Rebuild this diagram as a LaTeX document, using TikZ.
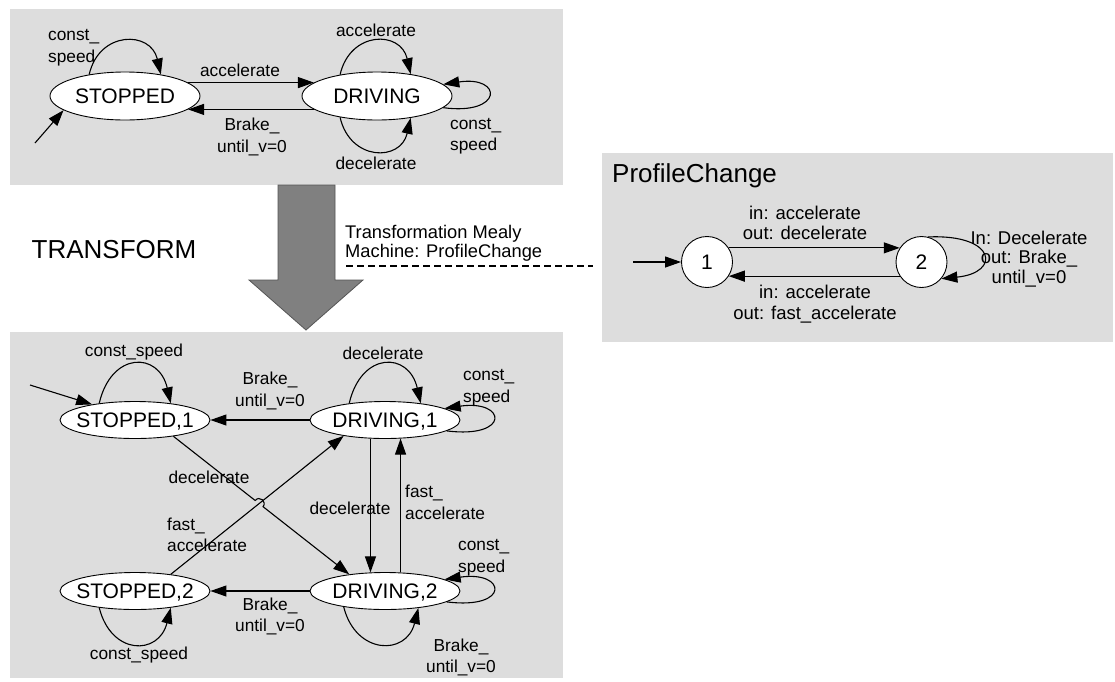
\documentclass[tikz,border=0pt]{standalone}
\usepackage{fontspec}
\setmainfont{Liberation Sans}
\usetikzlibrary{arrows.meta,shapes.geometric,calc}
\definecolor{panelgray}{RGB}{221,221,221}
\definecolor{blockfill}{RGB}{128,128,128}
\definecolor{blockedge}{RGB}{85,85,85}
\newcommand\statefont{\fontsize{21}{25}\selectfont}
\newcommand\lblfont{\fontsize{17.3}{21.5}\selectfont}
\newcommand\pclblfont{\fontsize{18.5}{20.5}\selectfont}
\newcommand\headfont{\fontsize{26}{31}\selectfont}
\newcommand\stname[1]{\makebox[0pt]{#1}}
\begin{document}
\begin{tikzpicture}[x=1pt,y=-1pt,
  fsm/.style={ellipse, draw, fill=white, line width=0.9pt, inner sep=0pt,
    minimum width=150pt, minimum height=#1, text height=15pt, text depth=0pt,
    font=\statefont},
  fsm/.default=37pt,
  circ/.style={circle, draw, fill=white, line width=0.9pt, inner sep=0pt,
    minimum size=51pt, font=\statefont},
  arr/.style={-{Triangle[length=16pt,width=11pt]}, line width=1.1pt},
  lbl/.style={font=\lblfont, inner sep=0pt, align=center},
  lbll/.style={font=\lblfont, inner sep=0pt, align=left, anchor=west},
  panel/.style={fill=panelgray}
]
\useasboundingbox (0,0) rectangle (1115,681);
\fill[white] (0,0) rectangle (1115,681);

% grey panels
\fill[panel] (10,9) rectangle (563,185);
\fill[panel] (10,332) rectangle (563,678);
\fill[panel] (602,153) rectangle (1113,342);

% ---------- original machine ----------
\node[fsm=48pt] (st) at (125,96) {\stname{STOPPED}};
\node[fsm=48pt] (dr) at (377,96) {\stname{DRIVING}};
\coordinate (stin) at (35,143);
\draw[arr] (stin) -- (st.193);
\draw[arr] (st.12) -- (dr.168);
\draw[arr] (dr.192) -- (st.348);
\draw[arr] (st.149) .. controls +(10,-44) and +(-10,-44) .. (st.31);
\draw[arr] (dr.150) .. controls +(10,-44) and +(-10,-44) .. (dr.33);
\draw[arr] (dr.210) .. controls +(10,44) and +(-10,44) .. (dr.327);
\draw[arr] (dr.350) .. controls +(60,8) and +(60,-9) .. (dr.10);
\node[lbl] (t1) at (240,70) {accelerate};
\node[lbl] (t2) at (252,137) {Brake\_\\until\_v=0};
\node[lbll] (t3) at (48,47.5) {const\_\\speed};
\node[lbl] (t4) at (376,30) {accelerate};
\node[lbl] (t5) at (376,163) {decelerate};
\node[lbll] (t6) at (450,136) {const\_\\speed};

% ---------- transformation arrow ----------
\draw[fill=blockfill, draw=blockedge, line width=0.8pt]
  (278,185) -- (335,185) -- (335,280) -- (363,280) -- (306,330)
  -- (249,280) -- (278,280) -- cycle;
\node[font=\headfont, inner sep=0pt] (tr) at (114,250) {TRANSFORM};
\node[lbll, font=\fontsize{18.3}{19}\selectfont] (tm) at (345,243)
  {Transformation Mealy\\Machine: ProfileChange};
\coordinate (dashA) at (346,266);
\coordinate (dashB) at (593,266);
\draw[line width=2.6pt, dash pattern=on 7pt off 4pt] (dashA) -- (dashB);

% ---------- ProfileChange Mealy machine ----------
\node[font=\headfont, anchor=west, inner sep=0pt] (pct) at (612,176) {ProfileChange};
\node[circ] (c1) at (707,262) {1};
\node[circ] (c2) at (921.5,262) {2};
\coordinate (c1in) at (633,262);
\draw[arr] (c1in) -- (c1);
\draw[arr] (c1.33) -- (c2.147);
\draw[arr] (c2.213) -- (c1.327);
\draw[arr] (c2.75) .. controls +(68,-3) and +(60,-6) .. (c2.-40);
\node[lbl, font=\pclblfont] (p1) at (805,223) {in: accelerate\\out: decelerate};
\node[lbl, font=\pclblfont] (p2) at (815,304) {in: accelerate\\out: fast\_accelerate};
\node[lbl, font=\fontsize{18.5}{19.5}\selectfont] (p3) at (1029,259)
  {In: Decelerate\\out: Brake\_\\until\_v=0};

% ---------- product machine ----------
\node[fsm] (s1) at (135,420) {\stname{STOPPED,1}};
\node[fsm] (d1) at (385,420) {\stname{DRIVING,1}};
\node[fsm] (s2) at (135,591) {\stname{STOPPED,2}};
\node[fsm] (d2) at (385,591) {\stname{DRIVING,2}};
\coordinate (s1in) at (30,385);
\draw[arr] (s1in) -- (s1.160);
\draw[arr] (s1.155) .. controls +(12,-52) and +(-12,-52) .. (s1.25);
\draw[arr] (d1.155) .. controls +(12,-52) and +(-12,-52) .. (d1.25);
\draw[arr] (d1.350) .. controls +(64,8) and +(62,-9) .. (d1.11);
\draw[arr] (d1.west) -- (s1.east);
\draw[arr] (d1.232) -- (d2.128);
\draw[arr] (d2.50) -- (d1.310);
\draw[arr] (d2.west) -- (s2.east);
\draw[arr] (s2.205) .. controls +(12,48) and +(-12,48) .. (s2.335);
\draw[arr] (d2.201) .. controls +(12,48) and +(-12,48) .. (d2.333);
\draw[arr] (d2.350) .. controls +(64,8) and +(62,-9) .. (d2.11);
% crossing diagonals, one of them hops over the other
\coordinate (cx) at (intersection of s1.337--d2.155 and s2.25--d1.201);
\coordinate (hopa) at ($(cx)!5pt!(s1.337)$);
\coordinate (hopb) at ($(cx)!5pt!(d2.155)$);
\draw[arr] (s2.25) -- (d1.201);
\draw[arr] (s1.337) -- (hopa)
  .. controls ($(hopa)!6.67pt!90:(cx)$) and ($(hopb)!6.67pt!-90:(cx)$) .. (hopb)
  -- (d2.155);
\node[lbl] (b1) at (134,352) {const\_speed};
\node[lbl] (b2) at (383,353) {decelerate};
\node[lbll] (b3) at (463,387.5) {const\_\\speed};
\node[lbl] (b4) at (270,391) {Brake\_\\until\_v=0};
\node[lbl] (b5) at (209,477) {decelerate};
\node[lbll] (b6) at (167,535) {fast\_\\accelerate};
\node[lbl] (b7) at (350,508) {decelerate};
\node[lbll] (b8) at (405,502.5) {fast\_\\accelerate};
\node[lbl] (b9) at (270,616.5) {Brake\_\\until\_v=0};
\node[lbl] (b10) at (139,655) {const\_speed};
\node[lbll] (b11) at (458,557.5) {const\_\\speed};
\node[lbl] (b12) at (461,657.5) {Brake\_\\until\_v=0};
\end{tikzpicture}
\end{document}
